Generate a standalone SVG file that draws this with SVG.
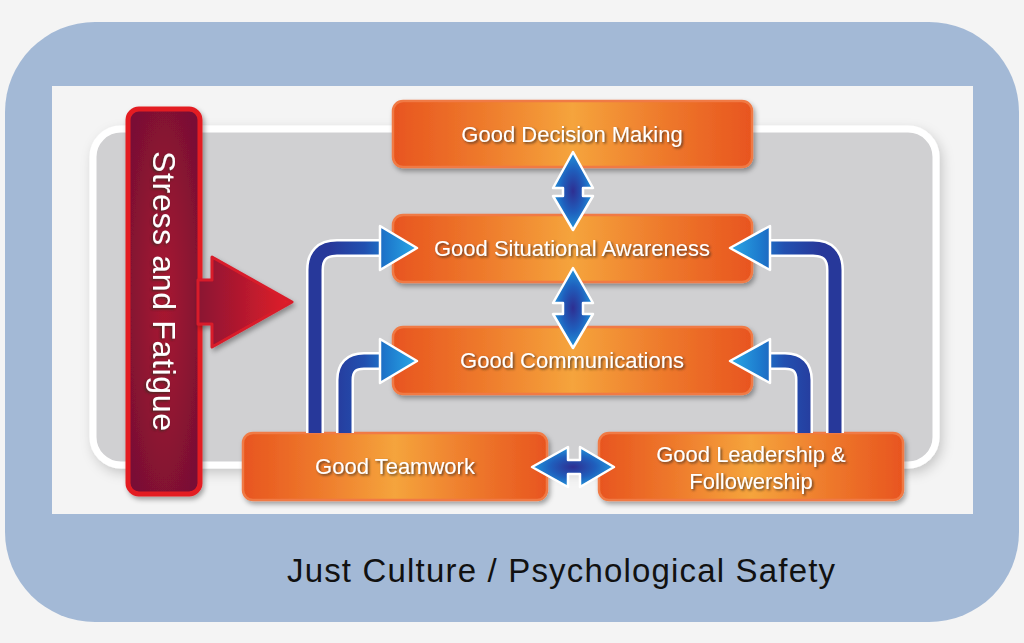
<svg xmlns="http://www.w3.org/2000/svg" width="1024" height="643" viewBox="0 0 1024 643">
<defs>
<style>
.box{fill:url(#og);stroke:#f07a45;stroke-width:2.5;filter:url(#sh)}
.lbl{font-family:"Liberation Sans",Arial,sans-serif;font-size:22px;fill:#ffffff;text-anchor:middle;filter:url(#tsh)}
.outline{fill:none;stroke:#ffffff;stroke-width:18;stroke-linejoin:round}
.shaftL{fill:none;stroke:url(#bgL);stroke-width:13}
.shaftR{fill:none;stroke:url(#bgR);stroke-width:13}
.dbl{fill:url(#rb);stroke:#ffffff;stroke-width:2.5;stroke-linejoin:round}
</style>
<linearGradient id="og" x1="0" y1="0" x2="1" y2="0">
<stop offset="0" stop-color="#e8551f"/>
<stop offset="0.25" stop-color="#ee7a2c"/>
<stop offset="0.5" stop-color="#f5a43c"/>
<stop offset="0.75" stop-color="#ee7a2c"/>
<stop offset="1" stop-color="#e8551f"/>
</linearGradient>
<radialGradient id="mg" cx="0.5" cy="0.5" r="0.6">
<stop offset="0" stop-color="#a8182f"/>
<stop offset="1" stop-color="#7a1034"/>
</radialGradient>
<linearGradient id="rg" x1="198" y1="0" x2="292" y2="0" gradientUnits="userSpaceOnUse">
<stop offset="0" stop-color="#8a1232"/>
<stop offset="1" stop-color="#e3202a"/>
</linearGradient>
<linearGradient id="bgL" x1="330" y1="0" x2="417" y2="0" gradientUnits="userSpaceOnUse">
<stop offset="0" stop-color="#27389a"/>
<stop offset="0.4" stop-color="#2250b0"/>
<stop offset="0.65" stop-color="#1d78cc"/>
<stop offset="1" stop-color="#2aa8e6"/>
</linearGradient>
<linearGradient id="bgR" x1="820" y1="0" x2="730" y2="0" gradientUnits="userSpaceOnUse">
<stop offset="0" stop-color="#27389a"/>
<stop offset="0.4" stop-color="#2250b0"/>
<stop offset="0.65" stop-color="#1d78cc"/>
<stop offset="1" stop-color="#2aa8e6"/>
</linearGradient>
<radialGradient id="rb" cx="0.5" cy="0.5" r="0.55">
<stop offset="0" stop-color="#2e2f92"/>
<stop offset="0.5" stop-color="#1f5fbd"/>
<stop offset="1" stop-color="#22a2e2"/>
</radialGradient>
<filter id="sh" x="-10%" y="-20%" width="125%" height="150%">
<feDropShadow dx="2" dy="3" stdDeviation="2.5" flood-color="#000" flood-opacity="0.35"/>
</filter>
<filter id="psh" x="-10%" y="-10%" width="120%" height="125%">
<feDropShadow dx="3" dy="5" stdDeviation="6" flood-color="#000" flood-opacity="0.18"/>
</filter>
<filter id="tsh" x="-10%" y="-30%" width="120%" height="170%">
<feDropShadow dx="1.5" dy="1.5" stdDeviation="1" flood-color="#3a2a20" flood-opacity="0.8"/>
</filter>
</defs>
<rect width="1024" height="643" fill="#f4f4f4"/>
<rect x="5" y="22" width="1014" height="600" rx="90" fill="#a3b9d6"/>
<rect x="52" y="86" width="921" height="428" fill="#f4f4f4"/>
<rect id="panel" x="93" y="129" width="843" height="336" rx="28" fill="#d0d0d2" stroke="#ffffff" stroke-width="7" filter="url(#psh)"/>

<g id="stress">
<rect x="128" y="109" width="72" height="385" rx="11" fill="url(#mg)" stroke="#e31e24" stroke-width="5" filter="url(#sh)"/>
<path d="M198,280 H212 V257 L292,302 L212,347 V324 H198 Z" fill="url(#rg)" stroke="#d81c2a" stroke-width="3" stroke-linejoin="round" filter="url(#sh)"/>
<text transform="translate(164,291) rotate(90)" font-family="'Liberation Sans',Arial,sans-serif" font-size="32" fill="#ffffff" text-anchor="middle" dominant-baseline="central" textLength="280" filter="url(#tsh)">Stress and Fatigue</text>
</g>

<g id="decision">
<rect class="box" x="393" y="101" width="359" height="66" rx="10"/>
<text class="lbl" x="572" y="142">Good Decision Making</text>
</g>
<g id="situational">
<rect class="box" x="393" y="215" width="359" height="67" rx="10"/>
<text class="lbl" x="572" y="256">Good Situational Awareness</text>
</g>
<g id="communications">
<rect class="box" x="393" y="327" width="359" height="67" rx="10"/>
<text class="lbl" x="572" y="368">Good Communications</text>
</g>
<g id="teamwork">
<rect class="box" x="243" y="433" width="304" height="67" rx="10"/>
<text class="lbl" x="395" y="474">Good Teamwork</text>
</g>
<g id="leadership">
<rect class="box" x="599" y="433" width="304" height="67" rx="10"/>
<text class="lbl" x="751" y="462">Good Leadership &amp;</text>
<text class="lbl" x="751" y="489">Followership</text>
</g>

<g id="connectors">
<path class="outline" d="M315,433 V270 Q315,248 337,248 H384"/>
<path class="shaftL" d="M315,433 V270 Q315,248 337,248 H384"/>
<path d="M380,226 L417,248 L380,270 Z" fill="url(#bgL)" stroke="#ffffff" stroke-width="2.5" stroke-linejoin="round"/>
<path class="outline" d="M345,433 V380 Q345,361 364,361 H384"/>
<path class="shaftL" d="M345,433 V380 Q345,361 364,361 H384"/>
<path d="M380,339 L417,361 L380,383 Z" fill="url(#bgL)" stroke="#ffffff" stroke-width="2.5" stroke-linejoin="round"/>
<path class="outline" d="M835,433 V270 Q835,248 813,248 H766"/>
<path class="shaftR" d="M835,433 V270 Q835,248 813,248 H766"/>
<path d="M770,226 L730,248 L770,270 Z" fill="url(#bgR)" stroke="#ffffff" stroke-width="2.5" stroke-linejoin="round"/>
<path class="outline" d="M804,433 V380 Q804,361 785,361 H766"/>
<path class="shaftR" d="M804,433 V380 Q804,361 785,361 H766"/>
<path d="M770,339 L730,361 L770,383 Z" fill="url(#bgR)" stroke="#ffffff" stroke-width="2.5" stroke-linejoin="round"/>
<path class="dbl" d="M573,152 L593,188 H583 V196 H593 L573,230 L553,196 H563 V188 H553 Z"/>
<path class="dbl" d="M573,268 L593,303 H583 V314 H593 L573,348 L553,314 H563 V303 H553 Z"/>
<path class="dbl" d="M532,467 L568,447 V460 H580 V447 L614,467 L580,487 V474 H568 V487 Z"/>
</g>

<text x="561" y="582" font-family="'Liberation Sans',Arial,sans-serif" font-size="33" fill="#111111" text-anchor="middle" textLength="548">Just Culture / Psychological Safety</text>
</svg>
